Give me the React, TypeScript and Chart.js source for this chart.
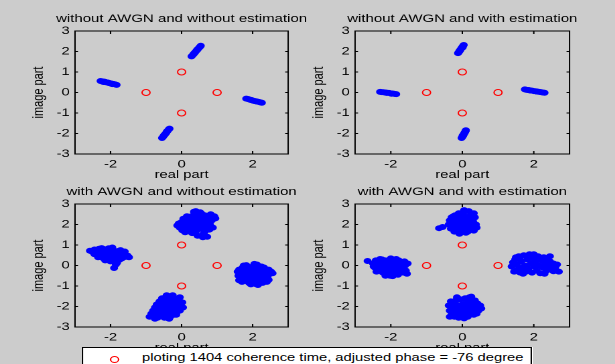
import React, { useEffect, useRef } from "react";
import { Chart, registerables } from "chart.js";

Chart.register(...registerables);

// ---------------- data ----------------
const X_TICKS = [-2, 0, 2];
const Y_TICKS = [-3, -2, -1, 0, 1, 2, 3];
const X_LABEL = "real part";
const Y_LABEL = "image part";
const LEGEND_TEXT = "ploting 1404 coherence time, adjusted phase = -76 degree";

const REFERENCE_POINTS: number[][] = [[1, 0], [-1, 0], [0, 1], [0, -1]];

const TITLES = [
  "without AWGN and without estimation",
  "without AWGN and with estimation",
  "with AWGN and without estimation",
  "with AWGN and with estimation",
];

// without AWGN, without estimation (rotated streaks)
const noNoiseNoEst: number[][] = [
  [-2.28, 0.56], [-2.23, 0.54], [-2.18, 0.53], [-2.13, 0.5], [-2.08, 0.49], [-2.03, 0.46], [-1.98, 0.44],
  [-1.93, 0.42], [-1.88, 0.4], [-1.83, 0.37], [-2.2, 0.51], [-2.05, 0.47], [-1.95, 0.41], [-2.15, 0.52],
  [0.28, 1.76], [0.31, 1.82], [0.34, 1.88], [0.37, 1.94], [0.4, 2.0], [0.43, 2.06], [0.46, 2.12],
  [0.49, 2.18], [0.52, 2.24], [0.54, 2.28], [0.35, 1.9], [0.44, 2.09],
  [1.82, -0.3], [1.87, -0.32], [1.92, -0.35], [1.97, -0.37], [2.02, -0.4], [2.07, -0.42], [2.12, -0.44],
  [2.17, -0.46], [2.22, -0.48], [2.26, -0.5], [1.95, -0.36], [2.1, -0.43],
  [-0.55, -2.22], [-0.52, -2.16], [-0.5, -2.1], [-0.47, -2.04], [-0.44, -1.98], [-0.42, -1.92],
  [-0.39, -1.86], [-0.36, -1.8], [-0.34, -1.76], [-0.48, -2.07], [-0.41, -1.9],
];

// without AWGN, with estimation
const noNoiseEst: number[][] = [
  [-2.3, 0.03], [-2.25, 0.02], [-2.2, 0.01], [-2.15, 0.0], [-2.1, -0.01], [-2.05, -0.02], [-2.0, -0.04],
  [-1.95, -0.05], [-1.9, -0.07], [-1.85, -0.08], [-2.12, -0.02], [-1.98, -0.06],
  [-0.12, 1.92], [-0.1, 1.97], [-0.08, 2.02], [-0.06, 2.07], [-0.04, 2.12], [-0.02, 2.17], [0.0, 2.22],
  [0.02, 2.27], [0.04, 2.32], [-0.07, 2.05], [0.01, 2.2],
  [1.75, 0.15], [1.8, 0.13], [1.85, 0.12], [1.9, 0.1], [1.95, 0.09], [2.0, 0.07], [2.05, 0.06],
  [2.1, 0.04], [2.15, 0.03], [2.2, 0.02], [2.25, 0.0], [2.3, -0.01], [1.88, 0.11], [2.08, 0.05],
  [-0.02, -2.22], [0.0, -2.17], [0.02, -2.12], [0.03, -2.07], [0.05, -2.02], [0.06, -1.97],
  [0.08, -1.92], [0.09, -1.87], [0.1, -1.84], [0.01, -2.1], [0.07, -1.95],
];

// with AWGN, without estimation
const noiseNoEst: number[][] = [
  [-2.58, 0.72], [-2.5, 0.65], [-2.45, 0.78], [-2.4, 0.6], [-2.38, 0.7], [-2.35, 0.5], [-2.32, 0.82],
  [-2.3, 0.62], [-2.28, 0.42], [-2.25, 0.72], [-2.22, 0.55], [-2.2, 0.35], [-2.18, 0.8], [-2.15, 0.62],
  [-2.12, 0.45], [-2.1, 0.7], [-2.08, 0.28], [-2.05, 0.55], [-2.02, 0.4], [-2.0, 0.78], [-1.98, 0.62],
  [-1.95, 0.3], [-1.92, 0.48], [-1.9, 0.72], [-1.88, 0.18], [-1.86, 0.38], [-1.84, 0.58], [-1.8, 0.7],
  [-1.78, 0.45], [-1.75, 0.28], [-1.72, 0.62], [-1.7, 0.5], [-1.68, 0.35], [-1.62, 0.55], [-1.58, 0.42],
  [-1.52, 0.48], [-1.48, 0.4], [-1.6, 0.68], [-1.85, 0.05], [-1.9, -0.12], [-1.82, 0.12], [-2.0, 0.2],
  [-2.35, 0.4], [-2.45, 0.55], [-2.25, 0.85], [-2.05, 0.84], [-1.95, 0.88], [-2.15, 0.25], [-1.72, 0.75],
  [-2.42, 0.68],
  [-0.12, 1.95], [-0.08, 2.05], [-0.05, 1.85], [0.0, 2.12], [0.02, 1.72], [0.05, 1.98], [0.08, 2.2],
  [0.1, 1.62], [0.12, 1.88], [0.15, 2.05], [0.18, 2.3], [0.2, 1.75], [0.22, 1.95], [0.25, 2.15],
  [0.28, 2.4], [0.3, 1.58], [0.32, 1.85], [0.35, 2.05], [0.38, 2.28], [0.4, 2.5], [0.42, 1.7],
  [0.45, 1.95], [0.48, 2.18], [0.5, 2.4], [0.52, 2.6], [0.55, 1.8], [0.58, 2.05], [0.6, 2.3],
  [0.62, 1.55], [0.65, 2.45], [0.68, 1.9], [0.7, 2.15], [0.72, 1.4], [0.75, 2.35], [0.78, 1.75],
  [0.8, 2.0], [0.82, 2.5], [0.85, 2.2], [0.88, 1.85], [0.92, 2.4], [0.95, 2.3], [0.35, 2.62],
  [0.55, 2.55], [0.25, 1.65], [0.45, 1.45], [0.65, 1.65], [0.15, 2.4], [0.05, 2.28], [0.6, 1.38],
  [0.4, 2.65],
  [1.58, -0.3], [1.6, -0.5], [1.62, -0.2], [1.65, -0.65], [1.68, -0.4], [1.72, -0.1], [1.75, -0.55],
  [1.78, -0.75], [1.8, -0.3], [1.82, 0.02], [1.85, -0.6], [1.88, -0.45], [1.9, -0.85], [1.92, -0.15],
  [1.95, -0.35], [1.98, -0.7], [2.0, -0.05], [2.02, -0.5], [2.05, -0.25], [2.08, -0.9], [2.1, -0.62],
  [2.12, 0.05], [2.15, -0.4], [2.18, -0.15], [2.2, -0.75], [2.22, -0.55], [2.25, -0.28], [2.28, -0.85],
  [2.3, -0.45], [2.32, -0.1], [2.35, -0.65], [2.38, -0.35], [2.42, -0.55], [2.45, -0.2], [2.48, -0.4],
  [2.52, -0.3], [2.56, -0.38], [1.7, -0.8], [1.95, -0.92], [2.15, -0.95], [2.4, -0.8], [1.75, 0.0],
  [2.05, 0.08], [1.85, -0.2], [2.25, -0.05], [1.62, -0.72], [2.45, -0.7], [2.0, -0.8],
  [-0.9, -2.5], [-0.85, -2.35], [-0.8, -2.2], [-0.78, -2.45], [-0.75, -2.05], [-0.72, -2.3], [-0.7, -1.9],
  [-0.68, -2.55], [-0.65, -2.15], [-0.62, -1.75], [-0.6, -2.4], [-0.58, -2.0], [-0.55, -1.6], [-0.52, -2.25],
  [-0.5, -1.85], [-0.48, -2.55], [-0.45, -2.1], [-0.42, -1.45], [-0.4, -1.7], [-0.38, -2.35], [-0.35, -1.95],
  [-0.32, -2.5], [-0.3, -1.55], [-0.28, -2.2], [-0.25, -1.8], [-0.22, -2.05], [-0.2, -2.4], [-0.18, -1.65],
  [-0.15, -1.9], [-0.12, -2.25], [-0.1, -1.75], [-0.08, -2.1], [-0.05, -1.55], [-0.02, -1.95], [0.02, -1.8],
  [0.04, -2.05], [-0.55, -2.45], [-0.35, -2.6], [-0.65, -1.85], [-0.45, -1.55], [-0.25, -1.45], [-0.15, -2.4],
  [-0.75, -2.6], [-0.05, -2.2], [-0.4, -2.25], [-0.6, -2.15], [-0.3, -2.0],
];

// with AWGN, with estimation
const noiseEst: number[][] = [
  [-2.65, 0.22], [-2.5, 0.1], [-2.45, -0.1], [-2.42, 0.25], [-2.38, 0.0], [-2.35, -0.25], [-2.32, 0.15],
  [-2.28, -0.05], [-2.25, 0.3], [-2.22, -0.35], [-2.2, 0.1], [-2.18, -0.15], [-2.15, 0.25], [-2.12, -0.4],
  [-2.1, 0.0], [-2.08, -0.2], [-2.05, 0.2], [-2.02, -0.5], [-2.0, 0.05], [-1.98, -0.3], [-1.95, 0.28],
  [-1.92, -0.1], [-1.9, -0.4], [-1.88, 0.15], [-1.85, -0.22], [-1.82, 0.05], [-1.8, -0.45], [-1.78, 0.25],
  [-1.75, -0.1], [-1.72, -0.3], [-1.7, 0.12], [-1.68, -0.05], [-1.65, -0.35], [-1.62, 0.2], [-1.6, 0.0],
  [-1.58, -0.25], [-1.55, -0.4], [-1.53, 0.1], [-2.4, -0.3], [-2.3, 0.32], [-2.15, -0.5], [-1.95, -0.52],
  [-2.48, -0.05], [-1.85, 0.32], [-2.25, -0.2], [-2.0, 0.35],
  [-0.65, 1.82], [-0.55, 1.88], [-0.38, 2.0], [-0.35, 2.2], [-0.32, 1.8], [-0.3, 2.35], [-0.28, 1.95],
  [-0.25, 2.1], [-0.22, 1.65], [-0.2, 2.45], [-0.18, 2.25], [-0.15, 1.85], [-0.12, 2.0], [-0.1, 2.55],
  [-0.08, 1.55], [-0.05, 2.3], [-0.02, 2.15], [0.0, 1.75], [0.02, 2.6], [0.05, 1.95], [0.08, 2.4],
  [0.1, 1.6], [0.12, 2.2], [0.15, 2.05], [0.18, 2.65], [0.2, 1.8], [0.22, 2.3], [0.25, 2.5],
  [0.28, 1.95], [0.3, 2.15], [0.32, 1.7], [0.35, 2.35], [0.38, 2.0], [0.4, 1.85], [-0.05, 1.65],
  [0.05, 2.7], [-0.15, 2.35], [0.15, 1.65], [-0.25, 2.4], [0.25, 2.25], [0.0, 2.45], [-0.3, 2.05],
  [0.32, 2.55], [-0.1, 1.9],
  [1.38, -0.05], [1.42, 0.15], [1.45, -0.3], [1.48, 0.3], [1.52, 0.05], [1.55, -0.2], [1.58, 0.45],
  [1.62, -0.35], [1.65, 0.2], [1.68, -0.1], [1.72, 0.5], [1.75, 0.0], [1.78, -0.3], [1.82, 0.3],
  [1.85, -0.15], [1.88, 0.55], [1.92, 0.1], [1.95, -0.35], [1.98, 0.35], [2.02, -0.05], [2.05, 0.2],
  [2.08, -0.25], [2.12, 0.45], [2.15, 0.0], [2.18, -0.38], [2.22, 0.25], [2.25, -0.1], [2.28, 0.4],
  [2.32, 0.1], [2.35, -0.25], [2.38, 0.3], [2.42, -0.05], [2.45, 0.2], [2.5, -0.2], [2.55, 0.1],
  [2.6, -0.1], [2.65, 0.05], [2.7, -0.3], [1.5, 0.4], [1.7, -0.4], [2.0, 0.55], [2.3, -0.4],
  [2.45, 0.45], [1.6, 0.35], [2.55, -0.28],
  [-0.38, -1.95], [-0.35, -2.2], [-0.32, -1.75], [-0.3, -2.4], [-0.28, -2.05], [-0.25, -1.85], [-0.22, -2.5],
  [-0.2, -2.15], [-0.18, -1.7], [-0.15, -2.35], [-0.12, -1.95], [-0.1, -2.55], [-0.08, -2.1], [-0.05, -1.65],
  [-0.02, -2.3], [0.0, -1.9], [0.02, -2.45], [0.05, -2.05], [0.08, -1.6], [0.1, -2.25], [0.12, -1.8],
  [0.15, -2.5], [0.18, -2.0], [0.2, -1.55], [0.22, -2.35], [0.25, -1.75], [0.28, -2.15], [0.3, -1.95],
  [0.32, -2.4], [0.35, -1.7], [0.38, -2.05], [0.42, -1.85], [0.45, -2.2], [0.5, -1.95], [0.53, -2.1],
  [-0.25, -2.3], [0.05, -2.58], [0.25, -1.52], [-0.15, -1.55], [0.4, -2.35], [-0.35, -2.5], [0.0, -2.15],
  [0.2, -2.1], [-0.1, -2.0],
];

const PANEL_DATA = [noNoiseNoEst, noNoiseEst, noiseNoEst, noiseEst];

// ---------------- layout (final pixels) ----------------
const S = 1.34; // horizontal stretch of the whole figure
const FONT = "'Liberation Sans', Arial, Helvetica, sans-serif";
const PANELS = [
  { plotLeft: 75, plotRight: 288, top: 0 },
  { plotLeft: 355, plotRight: 570, top: 0 },
  { plotLeft: 75, plotRight: 288, top: 173 },
  { plotLeft: 355, plotRight: 570, top: 173 },
];
const CANVAS_H = 190;
const PLOT_TOP = 31;
const PLOT_BOTTOM = 154;
const AXIS_W = 75;
const TITLE_Y = 19;

const frameTicks = {
  id: "frameTicks",
  afterDraw(chart: any, _args: any, opts: any) {
    const { ctx, chartArea: a, scales } = chart;
    ctx.save();
    // panel title, centred over the plot box
    ctx.fillStyle = "#000";
    ctx.font = `11.2px ${FONT}`;
    ctx.textAlign = "center";
    ctx.textBaseline = "middle";
    ctx.fillText(opts.title, (a.left + a.right) / 2, TITLE_Y);
    // box + inward ticks
    ctx.strokeStyle = "#000";
    ctx.lineWidth = 1;
    ctx.strokeRect(a.left, a.top, a.right - a.left, a.bottom - a.top);
    const tv = 3;
    const th = 3 / S;
    ctx.beginPath();
    X_TICKS.forEach((v) => {
      const px = scales.x.getPixelForValue(v);
      ctx.moveTo(px, a.bottom);
      ctx.lineTo(px, a.bottom - tv);
      ctx.moveTo(px, a.top);
      ctx.lineTo(px, a.top + tv);
    });
    Y_TICKS.forEach((v) => {
      const py = scales.y.getPixelForValue(v);
      ctx.moveTo(a.left, py);
      ctx.lineTo(a.left + th, py);
      ctx.moveTo(a.right, py);
      ctx.lineTo(a.right - th, py);
    });
    ctx.stroke();
    ctx.restore();
  },
};

function Panel({ index }: { index: number }) {
  const ref = useRef<HTMLCanvasElement>(null);
  const p = PANELS[index];
  const canvasLeft = (p.plotLeft - AXIS_W) / S;
  const center = (p.plotLeft + p.plotRight) / 2 / S;
  const width = 2 * (center - canvasLeft);
  const yw = AXIS_W / S;
  const padRight = width - yw - (p.plotRight - p.plotLeft) / S;

  useEffect(() => {
    if (!ref.current) return;
    const font = { family: FONT, size: 11 };
    const chart = new Chart(ref.current, {
      type: "scatter",
      data: {
        datasets: [
          {
            data: PANEL_DATA[index].map(([x, y]) => ({ x, y })),
            backgroundColor: "#0000ff",
            borderColor: "#0000ff",
            borderWidth: 1,
            pointRadius: 2.5,
            pointStyle: "circle",
          },
          {
            data: REFERENCE_POINTS.map(([x, y]) => ({ x, y })),
            backgroundColor: "rgba(0,0,0,0)",
            borderColor: "#ff0000",
            borderWidth: 1,
            pointRadius: 3,
            pointStyle: "circle",
          },
        ],
      },
      options: {
        animation: false,
        responsive: false,
        devicePixelRatio: 2,
        events: [],
        layout: { padding: { left: 0, right: padRight, top: PLOT_TOP, bottom: 0 } },
        plugins: {
          legend: { display: false },
          tooltip: { enabled: false },
          title: { display: false },
          frameTicks: { title: TITLES[index] },
        },
        scales: {
          x: {
            type: "linear",
            position: "bottom",
            min: -3,
            max: 3,
            grid: { display: false, drawTicks: false },
            border: { display: false },
            afterBuildTicks: (s: any) => {
              s.ticks = X_TICKS.map((v) => ({ value: v }));
            },
            afterFit: (s: any) => {
              s.height = CANVAS_H - PLOT_BOTTOM;
            },
            ticks: { color: "#000", font, padding: 4.1, maxRotation: 0 },
            title: { display: true, text: X_LABEL, color: "#000", font, padding: { top: 0, bottom: 8.4 } },
          },
          y: {
            type: "linear",
            position: "left",
            min: -3,
            max: 3,
            grid: { display: false, drawTicks: false },
            border: { display: false },
            afterBuildTicks: (s: any) => {
              s.ticks = Y_TICKS.map((v) => ({ value: v }));
            },
            afterFit: (s: any) => {
              s.width = yw;
            },
            ticks: { color: "#000", font, padding: 4 },
            title: { display: true, text: Y_LABEL, color: "#000", font, padding: { top: 22.5, bottom: 0 } },
          },
        },
      },
      plugins: [frameTicks],
    } as any);
    return () => chart.destroy();
  }, [index]);

  return (
    <canvas
      ref={ref}
      width={Math.round(width)}
      height={CANVAS_H}
      style={{
        position: "absolute",
        left: canvasLeft,
        top: p.top,
        width: Math.round(width),
        height: CANVAS_H,
      }}
    />
  );
}

export default function App() {
  return (
    <div
      style={{
        position: "fixed",
        left: 0,
        top: 0,
        width: 615,
        height: 364,
        background: "#cccccc",
        overflow: "hidden",
      }}
    >
      <div
        style={{
          position: "absolute",
          left: 0,
          top: 0,
          width: 615 / S,
          height: 364,
          transform: `scaleX(${S})`,
          transformOrigin: "0 0",
        }}
      >
        {[0, 1, 2, 3].map((i) => (
          <Panel key={i} index={i} />
        ))}
        <div
          style={{
            position: "absolute",
            left: 82 / S,
            top: 347,
            width: 450 / S,
            height: 24,
            background: "#fff",
            border: "1px solid #000",
            boxSizing: "border-box",
          }}
        >
          <span
            style={{
              position: "absolute",
              left: (114 - 82) / S - 4,
              top: 359 - 347 - 4,
              width: 5,
              height: 5,
              borderRadius: "50%",
              border: "1px solid #ff0000",
            }}
          />
          <span
            style={{
              position: "absolute",
              left: (142 - 82) / S - 1,
              top: 3,
              fontFamily: FONT,
              fontSize: 11,
              lineHeight: "13px",
              whiteSpace: "nowrap",
              color: "#000",
            }}
          >
            {LEGEND_TEXT}
          </span>
        </div>
      </div>
    </div>
  );
}
